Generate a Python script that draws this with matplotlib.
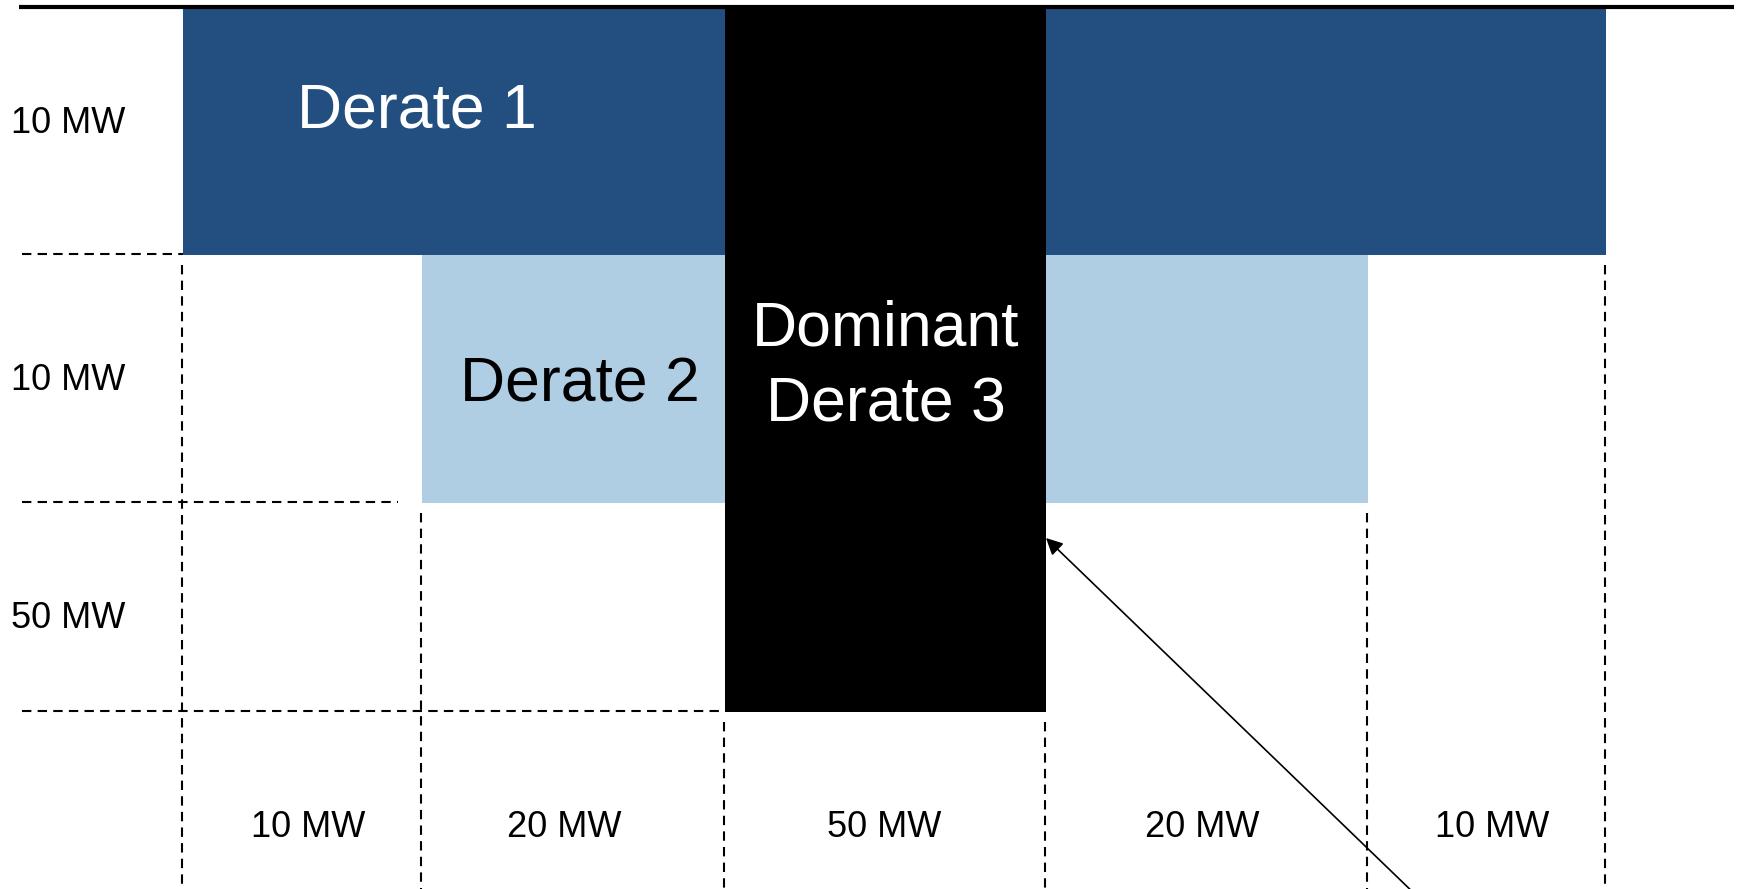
import matplotlib
matplotlib.use('Agg')
import matplotlib.pyplot as plt

plt.rcParams['font.family'] = ['Liberation Sans', 'DejaVu Sans']

# data: capacity of each column / row block and the derates that cover them
col_labels = ['10 MW', '20 MW', '50 MW', '20 MW', '10 MW']
row_labels = ['10 MW', '10 MW', '50 MW']
derate_names = ['Derate 1', 'Derate 2', 'Dominant\nDerate 3']
derate_cols = [(0, 5), (1, 4), (2, 3)]
derate_rows = [(0, 1), (1, 2), (0, 3)]

# layout (pixel grid of the schematic, not to scale)
W, H = 1741, 889
col_edges = [183, 422, 725, 1046, 1368, 1606]
row_edges = [9, 255, 503, 712]
derate_colors = ['#224e80', '#afcde3', '#000000']
derate_text_colors = ['white', 'black', 'white']
derate_text_pos = [(417, 127), (580, 401), (886, 422)]
row_label_y = [133, 390, 628]
col_label_x = [308, 564, 884, 1202, 1492]
col_label_y = 837
dash = (0, (4.5, 3))

fig = plt.figure(figsize=(W / 100, H / 100), dpi=100)
ax = fig.add_axes([0, 0, 1, 1])
ax.set_xlim(0, W)
ax.set_ylim(H, 0)
ax.axis('off')

# derate blocks
for name, (c0, c1), (r0, r1), col in zip(derate_names, derate_cols, derate_rows, derate_colors):
    ax.bar(col_edges[c0], row_edges[r1] - row_edges[r0], width=col_edges[c1] - col_edges[c0],
           bottom=row_edges[r0], align='edge', color=col, linewidth=0, zorder=2)

for name, (x, y), tc in zip(derate_names, derate_text_pos, derate_text_colors):
    ax.text(x, y, name, color=tc, fontsize=45, ha='center', va='baseline',
            linespacing=1.39, zorder=4)

# dashed grid lines below each block
for i, x in enumerate(col_edges):
    lowest = max(r1 for (c0, c1), (r0, r1) in zip(derate_cols, derate_rows) if c0 <= i <= c1)
    ax.plot([x - 1, x - 1], [row_edges[lowest] + 10, H], color='black', lw=1.5,
            linestyle=dash, zorder=1)

for j in range(1, len(row_edges)):
    left = min(col_edges[c0] for (c0, c1), (r0, r1) in zip(derate_cols, derate_rows) if r1 == j)
    if j == 2:
        left -= 24
    ax.plot([22, left], [row_edges[j] - 1, row_edges[j] - 1], color='black', lw=1.5,
            linestyle=dash, zorder=1)

# labels
for lab, y in zip(row_labels, row_label_y):
    ax.text(11, y, lab, fontsize=26, ha='left', va='baseline')

for lab, x in zip(col_labels, col_label_x):
    ax.text(x, col_label_y, lab, fontsize=26, ha='center', va='baseline')

# top rule
ax.plot([19, 1734], [7, 7], color='black', lw=3, solid_capstyle='butt', zorder=5)

# arrow pointing at the dominant derate
ax.annotate('', xy=(col_edges[3], 538), xytext=(1420, 899),
            arrowprops=dict(arrowstyle='-|>', color='black', lw=1.2,
                            mutation_scale=25, shrinkA=0, shrinkB=0),
            annotation_clip=False, zorder=6)

fig.savefig('out.png', dpi=100)
